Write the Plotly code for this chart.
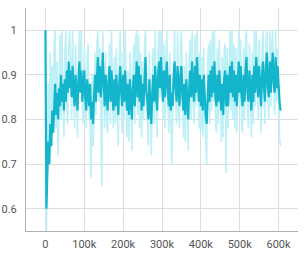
import plotly.graph_objects as go

step_interval = 2500
raw_values = [
    1.0, 0.55, 0.7, 0.88, 0.73, 0.95, 0.74, 0.92, 0.77, 0.97,
    1.0, 0.78, 0.93, 0.72, 0.81, 0.99, 0.8, 1.0, 0.86, 0.76,
    0.95, 1.0, 0.82, 0.79, 0.96, 1.0, 0.93, 0.8, 1.0, 0.84,
    0.78, 0.97, 0.83, 0.76, 0.92, 1.0, 0.87, 1.0, 0.82, 0.79,
    0.96, 0.83, 0.78, 0.94, 0.97, 0.8, 0.79, 0.67, 0.9, 0.74,
    0.8, 0.95, 0.81, 0.97, 1.0, 0.84, 0.96, 0.82, 0.65, 1.0,
    0.92, 0.78, 0.95, 0.8, 0.77, 0.93, 0.97, 0.79, 1.0, 0.85,
    0.78, 0.94, 0.79, 0.96, 0.83, 0.74, 0.93, 1.0, 0.86, 0.77,
    0.95, 0.8, 1.0, 0.84, 0.76, 0.91, 0.75, 0.95, 0.82, 0.73,
    0.92, 0.97, 0.79, 0.98, 1.0, 0.81, 0.99, 0.78, 0.95, 0.76,
    0.93, 0.8, 0.97, 1.0, 0.84, 0.8, 0.74, 0.95, 0.8, 0.72,
    0.9, 0.96, 0.79, 1.0, 0.83, 0.76, 0.96, 1.0, 0.85, 1.0,
    0.93, 0.8, 0.97, 0.78, 0.94, 1.0, 0.84, 0.77, 0.95, 0.78,
    0.7, 0.8, 0.96, 1.0, 0.85, 0.79, 1.0, 0.82, 0.78, 0.96,
    1.0, 0.83, 0.76, 0.92, 0.75, 0.95, 0.79, 0.73, 0.94, 0.98,
    0.8, 1.0, 0.84, 0.79, 0.99, 0.83, 1.0, 0.93, 0.78, 0.95,
    0.77, 0.94, 0.76, 0.96, 0.8, 0.74, 0.7, 0.93, 0.97, 0.79,
    0.98, 0.82, 1.0, 0.84, 1.0, 0.8, 0.77, 0.96, 0.79, 0.98,
    0.83, 0.75, 0.94, 0.76, 0.95, 0.97, 0.68, 0.96, 0.78, 0.93,
    1.0, 0.82, 1.0, 0.8, 0.97, 0.78, 0.96, 0.77, 0.95, 1.0,
    0.83, 0.98, 0.79, 0.77, 0.96, 0.8, 0.97, 1.0, 0.82, 0.78,
    0.97, 0.81, 0.76, 0.95, 0.79, 1.0, 0.83, 1.0, 0.86, 0.8,
    0.98, 0.84, 0.77, 0.96, 1.0, 0.85, 0.79, 0.98, 1.0, 0.84,
    0.8, 1.0, 0.83, 0.97, 1.0, 0.86, 0.81, 1.0, 0.84, 0.96,
    0.8, 0.76, 0.74,
]
smoothed_values = [
    1.0, 0.6, 0.68, 0.75, 0.7, 0.79, 0.74, 0.82, 0.77, 0.85,
    0.88, 0.81, 0.86, 0.8, 0.87, 0.83, 0.9, 0.84, 0.88, 0.82,
    0.89, 0.84, 0.91, 0.86, 0.93, 0.87, 0.91, 0.85, 0.92, 0.86,
    0.83, 0.9, 0.85, 0.82, 0.89, 0.93, 0.86, 0.91, 0.84, 0.88,
    0.91, 0.85, 0.82, 0.89, 0.86, 0.83, 0.88, 0.8, 0.84, 0.79,
    0.85, 0.9, 0.84, 0.91, 0.94, 0.86, 0.92, 0.85, 0.88, 0.95,
    0.87, 0.83, 0.9, 0.84, 0.82, 0.89, 0.92, 0.84, 0.91, 0.86,
    0.82, 0.89, 0.83, 0.9, 0.85, 0.81, 0.88, 0.92, 0.86, 0.83,
    0.9, 0.84, 0.91, 0.86, 0.82, 0.88, 0.81, 0.89, 0.84, 0.8,
    0.87, 0.9, 0.83, 0.91, 0.93, 0.85, 0.92, 0.84, 0.9, 0.82,
    0.88, 0.83, 0.91, 0.94, 0.86, 0.84, 0.8, 0.89, 0.83, 0.79,
    0.86, 0.9, 0.84, 0.92, 0.86, 0.82, 0.9, 0.93, 0.87, 0.94,
    0.88, 0.84, 0.91, 0.85, 0.9, 0.93, 0.86, 0.83, 0.9, 0.82,
    0.86, 0.83, 0.9, 0.93, 0.87, 0.84, 0.92, 0.85, 0.83, 0.9,
    0.92, 0.85, 0.82, 0.88, 0.81, 0.89, 0.83, 0.8, 0.87, 0.91,
    0.85, 0.93, 0.87, 0.84, 0.92, 0.86, 0.94, 0.88, 0.84, 0.9,
    0.83, 0.89, 0.82, 0.9, 0.84, 0.81, 0.79, 0.87, 0.9, 0.84,
    0.91, 0.85, 0.92, 0.86, 0.93, 0.85, 0.83, 0.9, 0.84, 0.91,
    0.86, 0.82, 0.88, 0.81, 0.89, 0.91, 0.83, 0.9, 0.83, 0.88,
    0.92, 0.86, 0.93, 0.85, 0.91, 0.84, 0.9, 0.83, 0.89, 0.93,
    0.86, 0.92, 0.85, 0.83, 0.9, 0.84, 0.91, 0.94, 0.86, 0.84,
    0.91, 0.85, 0.82, 0.9, 0.84, 0.92, 0.86, 0.94, 0.88, 0.85,
    0.92, 0.86, 0.83, 0.9, 0.93, 0.87, 0.84, 0.92, 0.95, 0.87,
    0.85, 0.93, 0.86, 0.91, 0.95, 0.88, 0.86, 0.94, 0.87, 0.92,
    0.86, 0.84, 0.82,
]
steps = [i * step_interval for i in range(len(raw_values))]

x_tick_vals = [0, 100000, 200000, 300000, 400000, 500000, 600000]
x_tick_text = ["0", "100k", "200k", "300k", "400k", "500k", "600k"]
y_tick_vals = [0.6, 0.7, 0.8, 0.9, 1.0]
y_tick_text = ["0.6", "0.7", "0.8", "0.9", "1"]

fig = go.Figure()
fig.add_trace(go.Scatter(x=steps, y=raw_values, mode="lines",
                         line=dict(color="#bdf0f7", width=1.6), hoverinfo="skip"))
fig.add_trace(go.Scatter(x=steps, y=smoothed_values, mode="lines",
                         line=dict(color="#12b5cb", width=2.2)))

fig.update_layout(
    width=306, height=259,
    margin=dict(l=26, r=8, t=8, b=28),
    paper_bgcolor="white", plot_bgcolor="white",
    showlegend=False,
    font=dict(family="Roboto", size=11, color="#555555"),
)
fig.update_xaxes(range=[-50000, 650000], tickvals=x_tick_vals, ticktext=x_tick_text,
                 showgrid=True, gridcolor="#dddddd", gridwidth=1,
                 showline=True, linecolor="#b0b0b0", linewidth=1,
                 zeroline=False, ticks="", ticklabelstandoff=3, automargin=False)
fig.update_yaxes(range=[0.55, 1.05], tickvals=y_tick_vals, ticktext=y_tick_text,
                 showgrid=True, gridcolor="#dddddd", gridwidth=1,
                 showline=True, linecolor="#b0b0b0", linewidth=1,
                 zeroline=False, ticks="", ticklabelstandoff=6, automargin=False)

fig.write_html("out.html", config={"displayModeBar": False},
               post_script="document.body.style.margin='0';")
